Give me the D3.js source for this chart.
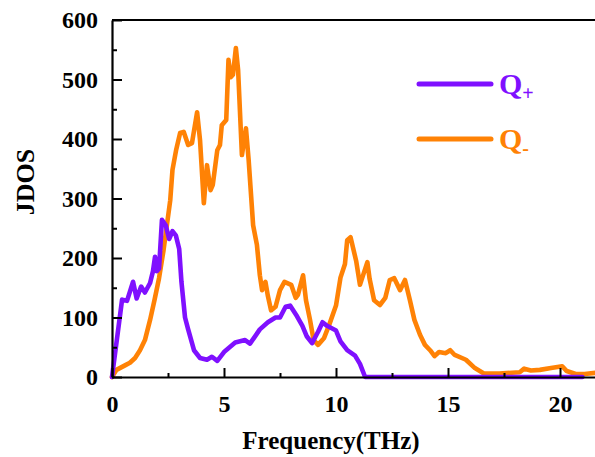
<!DOCTYPE html>
<html>
<head>
<meta charset="utf-8">
<script src="https://cdn.jsdelivr.net/npm/d3@7/dist/d3.min.js"></script>
<style>
  html, body { margin: 0; padding: 0; background: #fff; }
  svg { display: block; }
  text { font-family: "Liberation Serif", "Times New Roman", serif; font-weight: bold; }
</style>
</head>
<body>
<svg id="chart" width="595" height="457"></svg>
<script>
// Joint density of states for the two phonon-scattering channels
const freqPlus = [0, 0.45, 0.67, 0.94, 1.1, 1.3, 1.47, 1.7, 1.83, 1.92, 2.0, 2.1, 2.23, 2.4, 2.55, 2.7, 2.85, 3.0, 3.1, 3.26, 3.4, 3.66, 3.93, 4.24, 4.46, 4.7, 5.0, 5.5, 5.94, 6.16, 6.6, 6.96, 7.3, 7.5, 7.75, 7.95, 8.26, 8.5, 8.7, 8.93, 9.2, 9.4, 9.6, 10.0, 10.2, 10.5, 10.85, 11.07, 11.3, 21.0];
const jdosPlus = [0, 130, 128, 160, 132, 152, 142, 158, 178, 202, 178, 182, 264, 255, 232, 245, 238, 215, 160, 100, 80, 45, 32, 29, 34, 27, 42, 58, 62, 56, 80, 92, 100, 100, 118, 120, 102, 86, 68, 57, 76, 92, 86, 78, 60, 45, 36, 22, 0, 0];

const freqMinus = [0, 0.2, 0.6, 0.8, 1.03, 1.25, 1.47, 1.7, 1.9, 2.1, 2.3, 2.45, 2.6, 2.7, 2.86, 3.04, 3.2, 3.4, 3.57, 3.8, 3.93, 4.1, 4.24, 4.4, 4.5, 4.7, 4.82, 4.9, 5.1, 5.2, 5.3, 5.4, 5.53, 5.63, 5.8, 5.98, 6.1, 6.3, 6.47, 6.6, 6.7, 6.85, 6.96, 7.1, 7.3, 7.5, 7.7, 8.0, 8.2, 8.3, 8.53, 8.66, 8.84, 9.0, 9.2, 9.46, 9.7, 10.0, 10.2, 10.4, 10.5, 10.65, 10.9, 11.07, 11.2, 11.4, 11.5, 11.7, 11.96, 12.2, 12.4, 12.6, 12.86, 13.08, 13.3, 13.5, 13.75, 13.97, 14.2, 14.4, 14.6, 14.9, 15.1, 15.3, 15.8, 16.2, 16.6, 17.3, 18.2, 18.4, 18.7, 19.1, 19.6, 20.1, 20.3, 20.7, 21.1, 21.6];
const jdosMinus = [0, 12, 20, 24, 32, 45, 62, 96, 130, 166, 213, 255, 297, 348, 381, 410, 412, 390, 393, 445, 398, 292, 356, 314, 323, 381, 390, 423, 432, 533, 504, 508, 553, 516, 373, 418, 365, 255, 222, 171, 146, 160, 136, 112, 118, 146, 160, 155, 133, 138, 171, 129, 96, 62, 54, 65, 88, 120, 167, 190, 230, 235, 195, 155, 170, 193, 165, 129, 121, 133, 163, 166, 146, 163, 129, 96, 71, 54, 45, 35, 42, 40, 45, 37, 29, 15, 6, 6, 8, 14, 11, 12, 15, 18, 10, 5, 5, 7];

const xMajorTicks = [0, 5, 10, 15, 20];
const xMinorTicks = [2.5, 7.5, 12.5, 17.5];
const yMajorTicks = [0, 100, 200, 300, 400, 500, 600];
const yMinorTicks = [50, 150, 250, 350, 450, 550];

const seriesNames = ["Q", "Q"];
const seriesSubs = ["+", "-"];
const seriesColors = ["#7f10ff", "#ff8205"];

const svg = d3.select("#chart");
const plotLeft = 112, plotTop = 20, plotBottom = 377;
const x = d3.scaleLinear().domain([0, 22]).range([plotLeft, plotLeft + 22 * 22.4]);
const y = d3.scaleLinear().domain([0, 600]).range([plotBottom, plotTop]);

// series curves
const line = d3.line().x(d => x(d[0])).y(d => y(d[1]));
const series = [
  d3.zip(freqPlus, jdosPlus),
  d3.zip(freqMinus, jdosMinus)
];
// orange drawn first, purple on top
[1, 0].forEach(i => {
  svg.append("path")
    .datum(series[i])
    .attr("d", line)
    .attr("fill", "none")
    .attr("stroke", seriesColors[i])
    .attr("stroke-width", 4.6)
    .attr("stroke-linejoin", "round")
    .attr("stroke-linecap", "round");
});

// frame: top edge
svg.append("line")
  .attr("x1", plotLeft).attr("x2", 595)
  .attr("y1", plotTop).attr("y2", plotTop)
  .attr("stroke", "#000").attr("stroke-width", 2);

// left axis with inward ticks
const yAxis = d3.axisLeft(y).tickValues(yMajorTicks).tickSizeInner(-10).tickSizeOuter(0).tickPadding(14);
const gy = svg.append("g").attr("transform", `translate(${plotLeft},0)`).call(yAxis);
gy.selectAll(".tick line").attr("stroke-width", 2);
gy.select(".domain").attr("stroke-width", 2.2);
gy.selectAll(".tick text").attr("font-size", 24).attr("font-family", "Liberation Serif").attr("font-weight", "bold").attr("fill", "#000");
svg.append("g").attr("transform", `translate(${plotLeft},0)`)
  .call(d3.axisLeft(y).tickValues(yMinorTicks).tickSize(-5).tickFormat(""))
  .call(g => g.select(".domain").remove())
  .selectAll("line").attr("stroke-width", 2);

// bottom axis with inward ticks
const xAxis = d3.axisBottom(x).tickValues(xMajorTicks).tickSizeInner(-9).tickSizeOuter(0).tickPadding(18);
const gx = svg.append("g").attr("transform", `translate(0,${plotBottom})`).call(xAxis);
gx.selectAll(".tick line").attr("stroke-width", 2);
gx.select(".domain").attr("stroke-width", 2.2);
gx.selectAll(".tick text").attr("font-size", 24).attr("font-family", "Liberation Serif").attr("font-weight", "bold").attr("fill", "#000");
svg.append("g").attr("transform", `translate(0,${plotBottom})`)
  .call(d3.axisBottom(x).tickValues(xMinorTicks).tickSize(-4).tickFormat(""))
  .call(g => g.select(".domain").remove())
  .selectAll("line").attr("stroke-width", 2);

// axis titles
svg.append("text")
  .attr("x", 331).attr("y", 449)
  .attr("text-anchor", "middle")
  .attr("font-size", 25)
  .text("Frequency(THz)");
svg.append("text")
  .attr("transform", "translate(34,182) rotate(-90)")
  .attr("text-anchor", "middle")
  .attr("font-size", 26)
  .text("JDOS");

// legend
const legendY = [84, 139];
seriesNames.forEach((name, i) => {
  svg.append("line")
    .attr("x1", 419).attr("x2", 491)
    .attr("y1", legendY[i]).attr("y2", legendY[i])
    .attr("stroke", seriesColors[i]).attr("stroke-width", 5)
    .attr("stroke-linecap", "round");
  const t = svg.append("text")
    .attr("x", 499).attr("y", legendY[i] + 10)
    .attr("fill", seriesColors[i])
    .attr("font-size", 30);
  t.append("tspan").text(name);
  t.append("tspan").attr("font-size", 20).attr("dy", 6).text(seriesSubs[i]);
});
</script>
</body>
</html>
